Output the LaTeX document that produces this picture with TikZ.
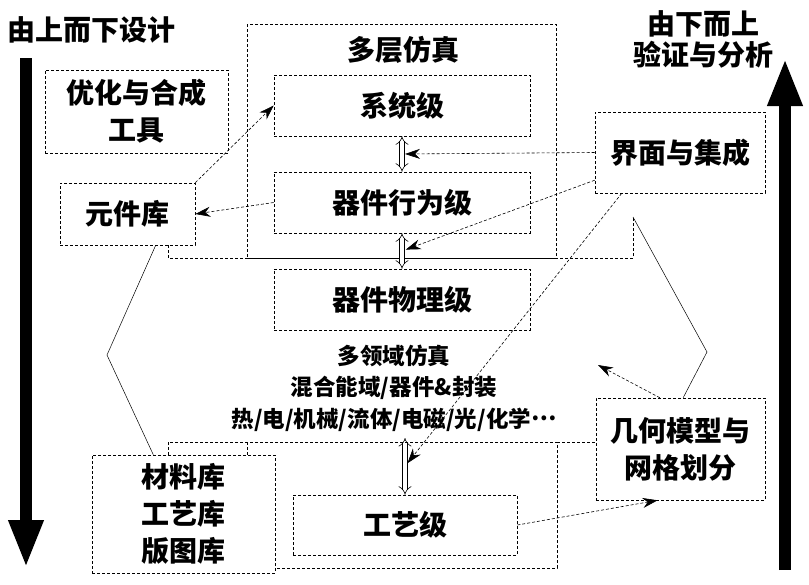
\documentclass[tikz,border=0pt]{standalone}
\usepackage{fontspec}
\setmainfont{Noto Sans CJK SC}
\usetikzlibrary{arrows.meta}
\usetikzlibrary{calc}

\begin{document}
\begin{tikzpicture}[x=1pt,y=-1pt,>={Stealth[length=15pt,width=10pt]},
    box/.style={draw,densely dashed,line width=0.6pt,fill=white,align=center,inner sep=0pt,
      font=\fontsize{28}{37}\selectfont\bfseries},
    frame/.style={densely dashed,line width=0.6pt},
    conn/.style={densely dashed,line width=0.6pt,->},
    wire/.style={line width=0.5pt},
    lev/.style={double,double distance=4pt,line width=0.6pt,{Implies}-{Implies}},
    big/.style={line width=12pt,-{Triangle[length=48pt,width=32pt]}},
    title/.style={align=center,font=\fontsize{28}{31}\selectfont\bfseries}]
    \useasboundingbox (0,0) rectangle (809,584);
    % frames behind the boxes
    \draw[frame] (168,245) -- (168,258) -- (633,258) -- (633,217);
    \draw[frame] (168,442) rectangle (557,568);
    \draw[frame] (247,442) -- (247,455);
    \draw[frame] (557,442) -- (597,442);
    \draw[frame] (247,24) rectangle (556,258);
    \node[title] (multi) at (403,50) {多层仿真};
    % levels
    \node[box,minimum width=256pt,minimum height=61pt] (sys) at (402,105.5) {系统级};
    \node[box,minimum width=256pt,minimum height=61pt] (beh) at (402,202.5) {器件行为级};
    \node[box,minimum width=256pt,minimum height=61pt] (phy) at (402,299.5) {器件物理级};
    \node[box,minimum width=224pt,minimum height=60pt] (proc) at (405,525) {工艺级};
    \node[align=center,font=\fontsize{22.5}{31.5}\selectfont\bfseries] (dom) at (394,388)
      {多领域仿真\\混合能域/器件\&封装\\热/电/机械/流体/电磁/光/化学\raisebox{0.3em}{…}};
    % libraries and tools
    \node[box,minimum width=183pt,minimum height=83pt] (opt) at (136.5,111.5) {优化与合成\\工具};
    \node[box,minimum width=135pt,minimum height=62pt] (lib) at (127.5,214) {元件库};
    \node[box,minimum width=183pt,minimum height=118pt] (mat) at (183.5,514) {材料库\\工艺库\\版图库};
    \node[box,minimum width=170pt,minimum height=81pt] (iface) at (680,152.5) {界面与集成};
    \node[box,minimum width=169pt,minimum height=102pt] (geo) at (680.5,449) {几何模型与\\网格划分};
    % double arrows between levels
    \coordinate (mtop) at (405,438);
    \draw[lev] (sys.south) -- (beh.north);
    \draw[lev] (beh.south) -- (phy.north);
    \draw[lev] (mtop) -- (proc.north);
    \coordinate (d1) at ($(sys.south)!0.5!(beh.north)$);
    \coordinate (d2) at ($(beh.south)!0.5!(phy.north)$);
    \coordinate (d3) at ($(mtop)!0.5!(proc.north)$);
    % connectors
    \draw[conn] (lib.north east) -- (sys.west);
    \draw[conn] (beh.west) -- (lib.east);
    \draw[conn,shorten >=3pt] (iface.west) -- (d1);
    \draw[conn,shorten >=4pt] (iface.198) -- (d2);
    \draw[conn,shorten >=4pt] (iface.215) -- (d3);
    \coordinate (gfree) at (598,365);
    \draw[conn] (geo.112) -- (gfree);
    \draw[conn] (proc.east) -- (geo.246);
    \coordinate (lbend) at (107,355);
    \draw[wire] (lib.312) -- (lbend) -- (mat.117);
    \coordinate (rcorner) at (633,217);
    \coordinate (rbend) at (707,352);
    \draw[wire] (rcorner) -- (rbend) -- (geo.87);
    % design and verification directions
    \node[title] (down) at (92,30) {由上而下设计};
    \node[title] (up) at (703,39) {由下而上\\验证与分析};
    \coordinate (ltop) at (26,58);
    \coordinate (lbot) at (26,568);
    \draw[big] (ltop) -- (lbot);
    \coordinate (rbot) at (785,570);
    \coordinate (rtop) at (785,58);
    \draw[big] (rbot) -- (rtop);
\end{tikzpicture}
\end{document}
